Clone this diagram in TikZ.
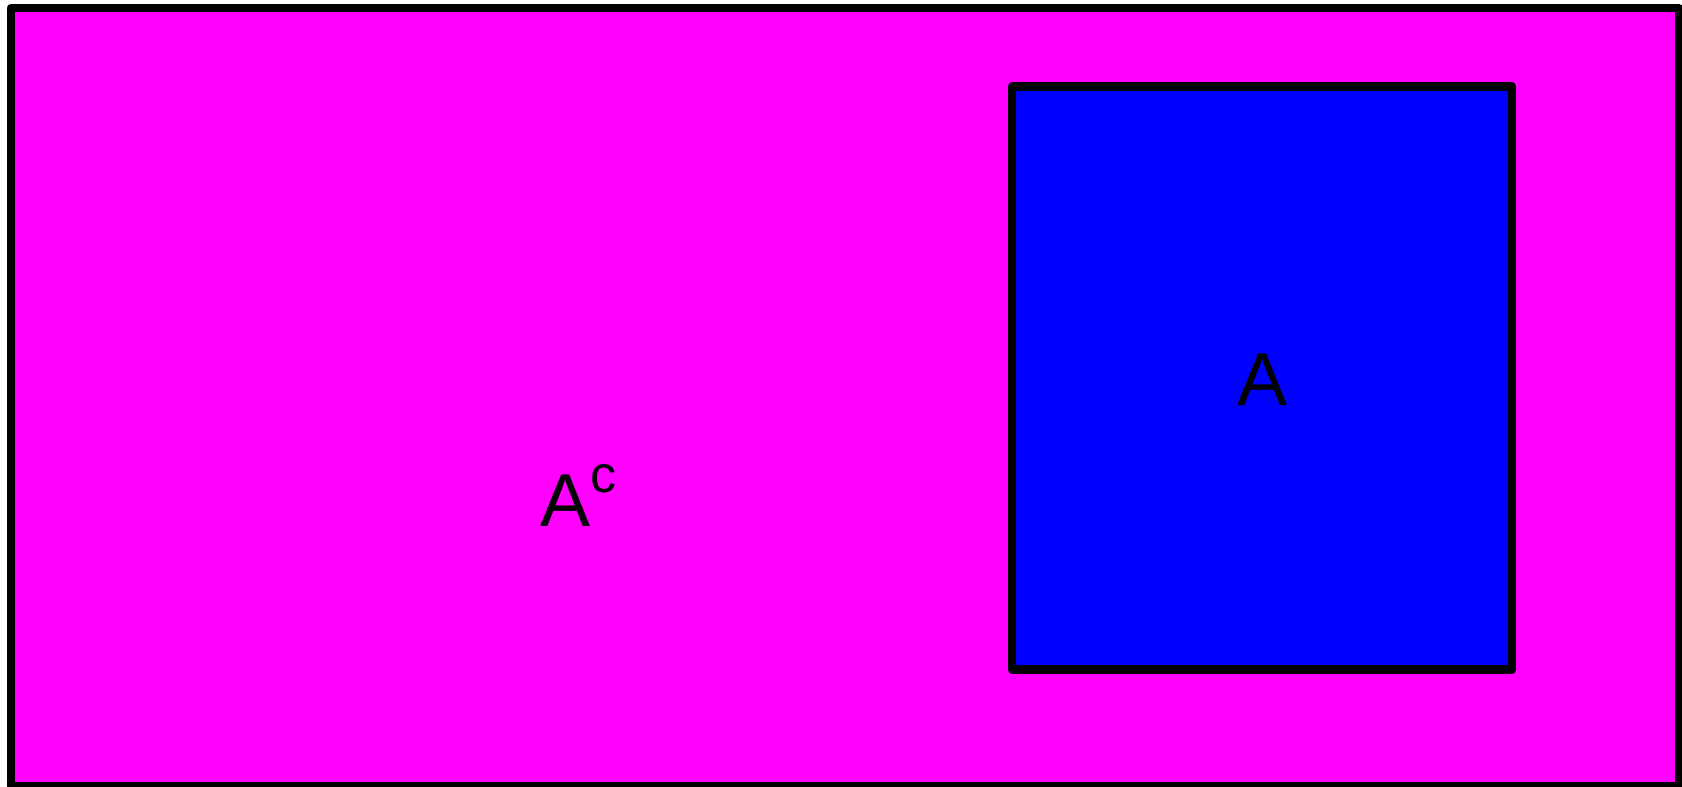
\documentclass[tikz,border=0pt]{standalone}
\usepackage{fontspec}
\setmainfont{Liberation Sans}
\definecolor{mag}{RGB}{255,0,255}
\definecolor{blu}{RGB}{0,0,255}
\tikzset{
  region/.style={draw=black, line join=round},
  lbl/.style={inner sep=0pt, font=\fontsize{75}{90}\selectfont}
}
\begin{document}
\begin{tikzpicture}[x=1pt,y=-1pt]
\useasboundingbox (0,0) rectangle (1682,787);
\draw[region, fill=mag, line width=8pt] (10.5,8) rectangle (1679,786);
\draw[region, fill=blu, line width=8.5pt] (1012,86.7) rectangle (1512,669.5);
\node[lbl, anchor=base] (a) at (1262,405) {A};
\node[lbl, anchor=base west] (ac) at (540,526) {A\raisebox{34pt}{\fontsize{52}{60}\selectfont c}};
\end{tikzpicture}
\end{document}
